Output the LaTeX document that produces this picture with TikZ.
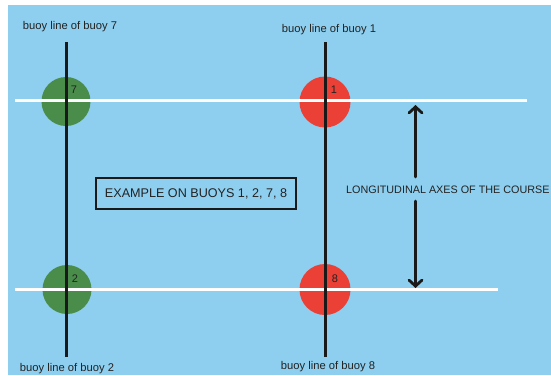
\documentclass[tikz,border=0pt]{standalone}
\usepackage{fontspec}
\setmainfont{Liberation Sans}
\usetikzlibrary{arrows.meta}
\definecolor{sea}{RGB}{142,206,238}
\definecolor{buoygreen}{RGB}{74,140,74}
\definecolor{buoyred}{RGB}{234,64,54}
\definecolor{txt}{RGB}{35,35,35}
\tikzset{
  buoyline/.style={line width=3pt, black!90},
  axisline/.style={line width=3pt, white},
  gbuoy/.style={circle, fill=buoygreen, minimum size=49pt, inner sep=0pt},
  rbuoy/.style={circle, fill=buoyred, minimum size=51pt, inner sep=0pt},
  lbl/.style={font=\fontsize{11.2}{13}\selectfont, text=txt, inner sep=0pt},
  num/.style={font=\fontsize{11}{12}\selectfont, text=txt, inner sep=0pt},
  bigtxt/.style={font=\fontsize{12.6}{14}\selectfont, text=txt, inner sep=0pt},
  lontxt/.style={font=\fontsize{10.8}{13}\selectfont, text=txt, inner sep=0pt},
  arr/.style={line width=2.8pt, black!90, line cap=round, -{Straight Barb[length=6pt, width=13pt, line cap=round]}},
}
\begin{document}
\begin{tikzpicture}[x=1pt, y=-1pt]
\useasboundingbox (0,0) rectangle (551,375);
\clip (0,0) rectangle (551,375);
\fill[white] (0,0) rectangle (551,375);
\fill[sea] (8,5) rectangle (551,375);
% buoys
\node[gbuoy] (b7) at (66,101.5) {};
\node[gbuoy] (b2) at (67,289.5) {};
\node[rbuoy] (b1) at (325,102) {};
\node[rbuoy] (b8) at (325,289.5) {};
% buoy line endpoints
\coordinate (l7top) at (66,42);
\coordinate (l2bot) at (66,357);
\coordinate (l1top) at (325,42);
\coordinate (l8bot) at (325,357);
% axis lines
\coordinate (a1l) at (15,100.5);
\coordinate (a1r) at (527,100.5);
\coordinate (a2l) at (15,289.5);
\coordinate (a2r) at (498,289.5);
\draw[axisline] (a1l) -- (a1r);
\draw[axisline] (a2l) -- (a2r);
\draw[buoyline] (l7top) -- (l2bot);
\draw[buoyline] (l1top) -- (l8bot);
% numbers
\node[num] (n7) at (74,90) {7};
\node[num] (n1) at (334,90) {1};
\node[num] (n2) at (75,279) {2};
\node[num] (n8) at (335,279) {8};
% labels
\node[lbl] (t7) at (70,27) {buoy line of buoy 7};
\node[lbl] (t1) at (329,29.5) {buoy line of buoy 1};
\node[lbl] (t2) at (67,369) {buoy line of buoy 2};
\node[lbl] (t8) at (328,366.5) {buoy line of buoy 8};
% example box
\node[bigtxt, draw=black!90, line width=2.5pt, minimum width=200pt, minimum height=31pt] (ex) at (196,193.5) {EXAMPLE ON BUOYS 1, 2, 7, 8};
% longitudinal axis arrow
\node[lontxt, anchor=west] (lon) at (346,190) {LONGITUDINAL AXES OF THE COURSE};
\coordinate (up1) at (415.5,177);
\coordinate (up2) at (415.5,105);
\coordinate (dn1) at (415.5,201);
\coordinate (dn2) at (415.5,288);
\draw[arr] (up1) -- (up2);
\draw[arr] (dn1) -- (dn2);
\end{tikzpicture}
\end{document}
